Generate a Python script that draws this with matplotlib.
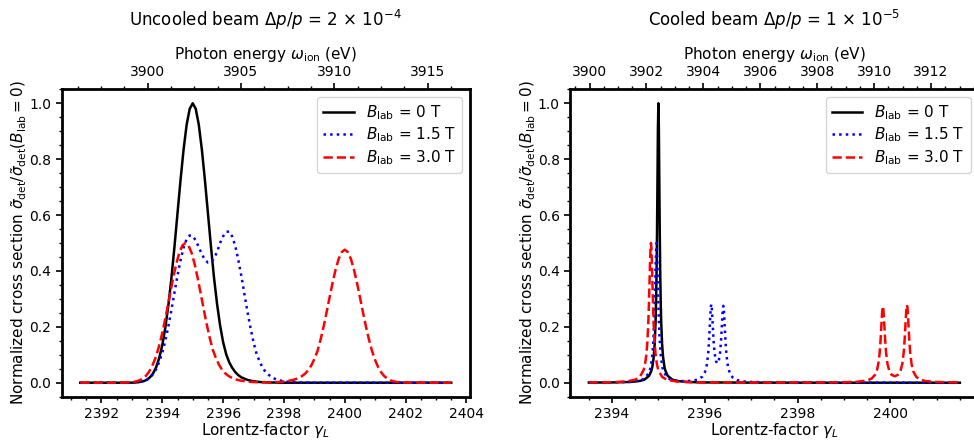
import numpy as np
import matplotlib.pyplot as plt
from matplotlib.ticker import AutoMinorLocator, MultipleLocator

# photon energy = k * gamma
k = 3902.42 / 2395.0

# ---- uncooled beam (left panel) ----
g_unc_0 = [2391.3, 2392.0, 2392.5, 2392.8, 2393.0, 2393.2, 2393.4, 2393.5, 2393.6, 2393.7,
           2393.8, 2393.9, 2394.0, 2394.1, 2394.2, 2394.3, 2394.4, 2394.5, 2394.6, 2394.7,
           2394.8, 2394.9, 2395.0, 2395.1, 2395.2, 2395.3, 2395.4, 2395.5, 2395.6, 2395.7,
           2395.8, 2395.9, 2396.0, 2396.1, 2396.2, 2396.3, 2396.4, 2396.5, 2396.6, 2396.8,
           2397.0, 2397.2, 2397.5, 2398.0, 2399.0, 2400.0, 2401.0, 2402.0, 2403.5]
s_unc_0 = [0.0, 0.0, 0.0, 0.0, 0.0003, 0.0015, 0.006, 0.011, 0.020, 0.034,
           0.056, 0.089, 0.135, 0.198, 0.278, 0.375, 0.487, 0.607, 0.726, 0.835,
           0.923, 0.980, 1.0, 0.980, 0.923, 0.835, 0.726, 0.607, 0.487, 0.376,
           0.282, 0.205, 0.145, 0.102, 0.073, 0.053, 0.038, 0.027, 0.019, 0.010,
           0.005, 0.0025, 0.001, 0.0, 0.0, 0.0, 0.0, 0.0, 0.0]

g_unc_15 = [2391.3, 2392.0, 2392.5, 2393.0, 2393.2, 2393.3, 2393.4, 2393.5, 2393.6, 2393.7,
            2393.8, 2393.9, 2394.0, 2394.1, 2394.2, 2394.3, 2394.4, 2394.5, 2394.6, 2394.7,
            2394.8, 2394.9, 2395.0, 2395.1, 2395.2, 2395.3, 2395.4, 2395.5, 2395.6, 2395.7,
            2395.8, 2395.9, 2396.0, 2396.1, 2396.2, 2396.3, 2396.4, 2396.5, 2396.6, 2396.7,
            2396.8, 2396.9, 2397.0, 2397.1, 2397.2, 2397.3, 2397.4, 2397.5, 2397.6, 2397.7,
            2397.8, 2398.0, 2398.2, 2398.4, 2398.7, 2399.0, 2400.0, 2401.0, 2402.0, 2403.5]
s_unc_15 = [0.0, 0.0, 0.0, 0.0005, 0.0018, 0.0035, 0.006, 0.011, 0.019, 0.031,
            0.049, 0.075, 0.108, 0.151, 0.203, 0.261, 0.323, 0.384, 0.439, 0.484,
            0.514, 0.527, 0.525, 0.509, 0.485, 0.460, 0.440, 0.430, 0.432, 0.445,
            0.468, 0.500, 0.524, 0.540, 0.541, 0.523, 0.489, 0.439, 0.381, 0.317,
            0.254, 0.196, 0.145, 0.103, 0.076, 0.053, 0.038, 0.028, 0.020, 0.014,
            0.010, 0.005, 0.0026, 0.0013, 0.0005, 0.0, 0.0, 0.0, 0.0, 0.0]

g_unc_30 = [2391.3, 2392.0, 2392.5, 2392.86, 2392.96, 2393.06, 2393.16, 2393.26, 2393.36, 2393.46,
            2393.56, 2393.66, 2393.76, 2393.86, 2393.96, 2394.06, 2394.16, 2394.26, 2394.36, 2394.46,
            2394.56, 2394.66, 2394.76, 2394.86, 2394.96, 2395.06, 2395.16, 2395.26, 2395.36, 2395.46,
            2395.56, 2395.66, 2395.76, 2395.86, 2395.96, 2396.06, 2396.16, 2396.26, 2396.36, 2396.46,
            2396.56, 2396.76, 2396.96, 2397.26, 2397.5, 2397.8, 2398.0, 2398.2, 2398.3, 2398.4,
            2398.5, 2398.6, 2398.7, 2398.8, 2398.9, 2399.0, 2399.1, 2399.2, 2399.3, 2399.4,
            2399.5, 2399.6, 2399.7, 2399.8, 2399.9, 2400.0, 2400.1, 2400.2, 2400.3, 2400.4,
            2400.5, 2400.6, 2400.7, 2400.8, 2400.9, 2401.0, 2401.1, 2401.2, 2401.3, 2401.4,
            2401.5, 2401.6, 2401.7, 2401.8, 2401.9, 2402.0, 2402.5, 2403.5]
s_unc_30 = [0.0, 0.0, 0.0, 0.0008, 0.0016, 0.0029, 0.0053, 0.009, 0.0155, 0.0245,
            0.0385, 0.058, 0.0845, 0.118, 0.160, 0.209, 0.2635, 0.3205, 0.376, 0.426,
            0.4655, 0.491, 0.500, 0.491, 0.4655, 0.426, 0.376, 0.3205, 0.2635, 0.209,
            0.160, 0.118, 0.089, 0.065, 0.0475, 0.0345, 0.0255, 0.019, 0.014, 0.0105,
            0.008, 0.0045, 0.0025, 0.0012, 0.0011, 0.0024, 0.0043, 0.0076, 0.010, 0.0133,
            0.018, 0.0243, 0.0328, 0.0452, 0.0619, 0.0847, 0.1123, 0.1523, 0.199, 0.2509,
            0.3051, 0.358, 0.4056, 0.4432, 0.4674, 0.476, 0.4674, 0.4432, 0.4056, 0.358,
            0.3051, 0.2509, 0.199, 0.1523, 0.1123, 0.0804, 0.0552, 0.0367, 0.0233, 0.0148,
            0.0086, 0.005, 0.0028, 0.0015, 0.0008, 0.0004, 0.0, 0.0]

# ---- cooled beam (right panel) ----
g_coo_0 = [2393.5, 2394.0, 2394.4, 2394.6, 2394.7, 2394.8, 2394.85, 2394.87, 2394.9, 2394.92,
           2394.94, 2394.95, 2394.96, 2394.97, 2394.98, 2394.99, 2395.0, 2395.01, 2395.02, 2395.03,
           2395.04, 2395.05, 2395.06, 2395.08, 2395.1, 2395.13, 2395.15, 2395.2, 2395.3, 2395.4,
           2395.6, 2396.0, 2397.0, 2398.0, 2399.0, 2400.0, 2401.5]
s_coo_0 = [0.0005, 0.001, 0.0028, 0.0064, 0.011, 0.025, 0.0435, 0.057, 0.093, 0.138,
           0.221, 0.291, 0.390, 0.532, 0.719, 0.911, 1.0, 0.911, 0.719, 0.532,
           0.390, 0.291, 0.221, 0.138, 0.093, 0.057, 0.0435, 0.025, 0.011, 0.0064,
           0.0028, 0.001, 0.0003, 0.0001, 0.0, 0.0, 0.0]

g_coo_15 = [2393.5, 2394.0, 2394.4, 2394.6, 2394.7, 2394.8, 2394.83, 2394.86, 2394.88, 2394.9,
            2394.91, 2394.92, 2394.93, 2394.94, 2394.95, 2394.96, 2394.97, 2394.98, 2394.99, 2395.0,
            2395.01, 2395.02, 2395.04, 2395.06, 2395.09, 2395.12, 2395.2, 2395.3, 2395.5, 2395.7,
            2395.85, 2395.95, 2396.0, 2396.04, 2396.07, 2396.09, 2396.11, 2396.12, 2396.13, 2396.14,
            2396.15, 2396.16, 2396.17, 2396.19, 2396.21, 2396.24, 2396.27, 2396.3, 2396.33, 2396.35,
            2396.37, 2396.38, 2396.39, 2396.4, 2396.41, 2396.42, 2396.43, 2396.45, 2396.47, 2396.5,
            2396.54, 2396.6, 2396.7, 2396.85, 2397.0, 2397.5, 2398.0, 2399.0, 2400.0, 2401.5]
s_coo_15 = [0.0005, 0.0011, 0.0032, 0.0078, 0.0145, 0.0366, 0.053, 0.084, 0.120, 0.180,
            0.224, 0.279, 0.346, 0.418, 0.476, 0.500, 0.476, 0.418, 0.346, 0.279,
            0.224, 0.180, 0.120, 0.084, 0.053, 0.0366, 0.017, 0.0087, 0.0059, 0.0066,
            0.011, 0.022, 0.036, 0.060, 0.098, 0.143, 0.208, 0.243, 0.270, 0.281,
            0.272, 0.245, 0.212, 0.150, 0.109, 0.078, 0.069, 0.077, 0.107, 0.147,
            0.207, 0.240, 0.265, 0.275, 0.264, 0.237, 0.203, 0.139, 0.096, 0.058,
            0.034, 0.019, 0.0094, 0.0045, 0.0027, 0.001, 0.0005, 0.0002, 0.0, 0.0]

g_coo_30 = [2393.5, 2394.0, 2394.3, 2394.5, 2394.6, 2394.68, 2394.71, 2394.74, 2394.76, 2394.78,
            2394.79, 2394.8, 2394.81, 2394.82, 2394.83, 2394.84, 2394.85, 2394.86, 2394.87, 2394.88,
            2394.89, 2394.9, 2394.92, 2394.94, 2394.97, 2395.0, 2395.08, 2395.18, 2395.4, 2395.8,
            2396.5, 2397.5, 2398.5, 2399.0, 2399.3, 2399.5, 2399.6, 2399.68, 2399.72, 2399.75,
            2399.77, 2399.79, 2399.81, 2399.82, 2399.83, 2399.84, 2399.85, 2399.86, 2399.87, 2399.89,
            2399.91, 2399.94, 2399.98, 2400.03, 2400.1, 2400.17, 2400.22, 2400.26, 2400.29, 2400.31,
            2400.33, 2400.34, 2400.35, 2400.36, 2400.37, 2400.38, 2400.39, 2400.41, 2400.43, 2400.46,
            2400.5, 2400.56, 2400.64, 2400.76, 2401.0, 2401.5]
s_coo_30 = [0.0007, 0.0018, 0.0042, 0.0106, 0.0208, 0.0445, 0.064, 0.100, 0.140, 0.205,
            0.250, 0.305, 0.368, 0.431, 0.481, 0.500, 0.481, 0.431, 0.368, 0.305,
            0.250, 0.205, 0.140, 0.100, 0.064, 0.0445, 0.0208, 0.0106, 0.004, 0.0014,
            0.0005, 0.0004, 0.0007, 0.0016, 0.0035, 0.008, 0.015, 0.030, 0.049, 0.076,
            0.105, 0.150, 0.211, 0.241, 0.264, 0.273, 0.2645, 0.242, 0.211, 0.152,
            0.107, 0.067, 0.042, 0.028, 0.023, 0.029, 0.042, 0.068, 0.109, 0.154,
            0.215, 0.246, 0.269, 0.278, 0.269, 0.246, 0.215, 0.153, 0.107, 0.066,
            0.039, 0.021, 0.0115, 0.006, 0.0026, 0.0009]

titles = [r'Uncooled beam $\Delta p/p$ = 2 $\times$ 10$^{-4}$',
          r'Cooled beam $\Delta p/p$ = 1 $\times$ 10$^{-5}$']
labels = [r'$B_{\rm lab}$ = 0 T', r'$B_{\rm lab}$ = 1.5 T', r'$B_{\rm lab}$ = 3.0 T']

plt.rcParams['font.size'] = 10
fig = plt.figure(figsize=(9.74, 4.41), dpi=100)
ax1 = fig.add_axes([0.0633, 0.1005, 0.4190, 0.6970])
ax2 = fig.add_axes([0.5855, 0.1005, 0.4190, 0.6970])

data = [(g_unc_0, s_unc_0, g_unc_15, s_unc_15, g_unc_30, s_unc_30),
        (g_coo_0, s_coo_0, g_coo_15, s_coo_15, g_coo_30, s_coo_30)]
top_step = [5, 2]

for ax, d, title, st in zip([ax1, ax2], data, titles, top_step):
    ax.plot(d[0], d[1], 'k-', lw=1.8, label=labels[0])
    ax.plot(d[2], d[3], 'b:', lw=1.8, label=labels[1])
    ax.plot(d[4], d[5], 'r--', lw=1.8, label=labels[2])
    ax.set_xlabel(r'Lorentz-factor $\gamma_L$', fontsize=11, labelpad=0)
    ax.set_ylabel(r'Normalized cross section $\tilde{\sigma}_{\rm det}/\tilde{\sigma}_{\rm det}(B_{\rm lab}=0)$',
                  fontsize=11, labelpad=0)
    ax.legend(loc='upper right', fontsize=11, labelspacing=0.25)
    for sp in ax.spines.values():
        sp.set_linewidth(2)
    ax.xaxis.set_minor_locator(AutoMinorLocator(4))
    ax.yaxis.set_minor_locator(AutoMinorLocator(4))
    ax.tick_params(which='major', length=4, width=1.2)
    ax.tick_params(which='minor', length=2.2, width=1)
    top = ax.secondary_xaxis('top', functions=(lambda g: k * g, lambda w: w / k))
    top.set_xlabel(r'Photon energy $\omega_{\rm ion}$ (eV)', fontsize=11)
    top.xaxis.set_major_locator(MultipleLocator(st))
    top.xaxis.set_minor_locator(AutoMinorLocator(4))
    top.tick_params(which='major', length=4, width=1.2)
    top.tick_params(which='minor', length=2.2, width=1)
    ax.set_title(title, fontsize=12, pad=14)

ax1.set_xticks([2392, 2394, 2396, 2398, 2400, 2402, 2404])
ax2.set_xticks([2394, 2396, 2398, 2400])

plt.savefig('out.png', dpi=100)
